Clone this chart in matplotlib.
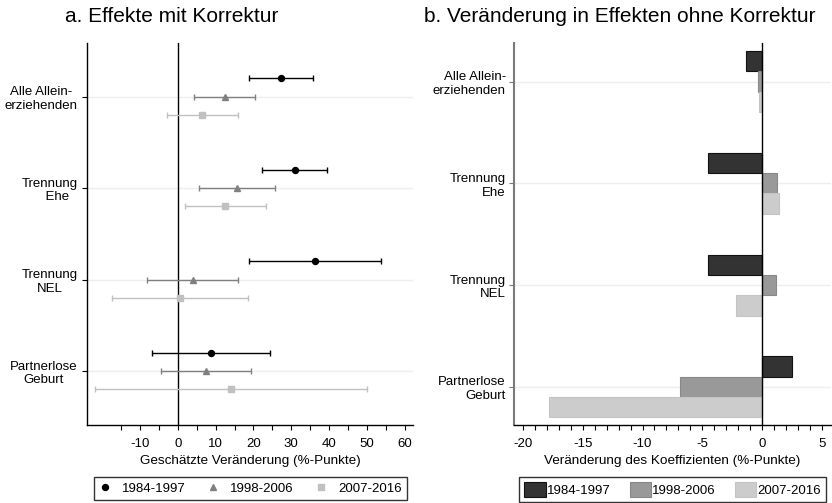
import numpy as np
import matplotlib
matplotlib.use("Agg")
import matplotlib.pyplot as plt
from matplotlib.lines import Line2D
from matplotlib.patches import Patch

plt.rcParams['font.family'] = ['Liberation Sans', 'DejaVu Sans']
plt.rcParams['axes.unicode_minus'] = False

# categories (left panel labels centred, right panel labels right aligned)
cats_left = ['Alle Allein-\nerziehenden', 'Trennung\n    Ehe', 'Trennung\nNEL', 'Partnerlose\nGeburt']
cats_right = ['Alle Allein-\nerziehenden', 'Trennung\nEhe', 'Trennung\nNEL', 'Partnerlose\nGeburt']
periods = ['1984-1997', '1998-2006', '2007-2016']

# panel a: estimates with confidence intervals
coef_8497 = [27.2, 30.9, 36.3, 8.7]
lo_8497 = [18.8, 22.2, 18.9, -6.9]
hi_8497 = [35.7, 39.5, 53.6, 24.4]
coef_9806 = [12.4, 15.6, 4.0, 7.5]
lo_9806 = [4.3, 5.5, -8.1, -4.4]
hi_9806 = [20.4, 25.8, 16.0, 19.4]
coef_0716 = [6.4, 12.5, 0.5, 14.0]
lo_0716 = [-2.8, 1.8, -17.3, -21.8]
hi_0716 = [16.0, 23.4, 18.6, 49.9]

# panel b: change in coefficient
diff_8497 = [-1.3, -4.5, -4.5, 2.5]
diff_9806 = [-0.3, 1.3, 1.2, -6.9]
diff_0716 = [-0.25, 1.4, -2.2, -17.8]

FS = 9.5

fig = plt.figure(figsize=(8.32, 5.03), dpi=100)
axl = fig.add_axes([0.105, 0.155, 0.3915, 0.7595])
axr = fig.add_axes([0.618, 0.155, 0.381, 0.7595])

ypos = np.arange(len(cats_left))

# ---- left panel
series = [
    (coef_8497, lo_8497, hi_8497, 'o', '#000000', -0.2, 4.3),
    (coef_9806, lo_9806, hi_9806, '^', '#808080', 0.0, 4.6),
    (coef_0716, lo_0716, hi_0716, 's', '#c0c0c0', 0.2, 4.0),
]
for y in ypos:
    axl.axhline(y, color='#eeeeee', lw=1, zorder=0)
axl.axvline(0, color='black', lw=1, zorder=1)
for coef, lo, hi, mk, col, off, ms in series:
    c = np.array(coef)
    err = [c - np.array(lo), np.array(hi) - c]
    axl.errorbar(c, ypos + off, xerr=err, fmt=mk, color=col, ms=ms,
                 elinewidth=1, capsize=2.2, capthick=1, zorder=3)

axl.set_ylim(3.59, -0.587)
axl.set_xlim(-23.9, 62.2)
axl.set_yticks(ypos)
axl.set_yticklabels(cats_left, multialignment='center', fontsize=FS)
xt = np.arange(-15, 61, 5)
axl.set_xticks(xt)
axl.set_xticklabels([str(v) if v % 10 == 0 else '' for v in xt], fontsize=FS)
axl.tick_params(length=3.5, width=0.8, color='black')
axl.tick_params(axis='x', pad=5.8)
for s in ['top', 'right']:
    axl.spines[s].set_visible(False)
axl.spines['left'].set_linewidth(1)
axl.spines['bottom'].set_linewidth(1)
axl.set_xlabel('Geschätzte Veränderung (%-Punkte)', fontsize=9.7, labelpad=3.5)

hl = [Line2D([], [], marker=mk, color=col, ls='none', ms=ms)
      for _, _, _, mk, col, _, ms in series]
fig.legend(hl, periods, loc='upper left', ncol=3, mode='expand',
           bbox_to_anchor=(0.113, -0.1, 0.376, 0.1517), fontsize=FS,
           frameon=True, fancybox=False, edgecolor='black', handlelength=0.8,
           handletextpad=0.9, borderaxespad=0.0)

# ---- right panel
bars = [
    (diff_8497, '#333333', '#111111', -0.2),
    (diff_9806, '#999999', '#888888', 0.0),
    (diff_0716, '#cccccc', '#c4c4c4', 0.2),
]
for y in ypos:
    axr.axhline(y, color='#eeeeee', lw=1, zorder=0)
for vals, col, ec, off in bars:
    axr.barh(ypos + off, vals, height=0.2, color=col, edgecolor=ec, lw=0.8, zorder=2)
axr.axvline(0, color='black', lw=1, zorder=3)

axr.set_ylim(3.377, -0.38)
axr.set_xlim(-20.75, 5.8)
axr.set_yticks(ypos)
axr.set_yticklabels(cats_right, multialignment='right', fontsize=FS)
axr.set_xticks(np.arange(-20, 6, 5))
axr.set_xticks(np.arange(-20, 6, 1), minor=True)
axr.tick_params(axis='x', which='both', length=3.5, width=0.8, labelsize=FS, pad=5.8)
axr.tick_params(axis='y', length=3.5, width=0.8, color='#7a7a7a', pad=2.5)
for s in ['top', 'right']:
    axr.spines[s].set_visible(False)
axr.spines['left'].set_color('#7a7a7a')
axr.spines['left'].set_linewidth(1.5)
axr.spines['bottom'].set_linewidth(1)
axr.set_xlabel('Veränderung des Koeffizienten (%-Punkte)', fontsize=9.7, labelpad=3.5)

hb = [Patch(facecolor=col, edgecolor=ec, lw=0.8) for _, col, ec, _ in bars]
fig.legend(hb, periods, loc='upper left', ncol=3, mode='expand',
           bbox_to_anchor=(0.624, -0.1, 0.369, 0.1517), fontsize=FS,
           frameon=True, fancybox=False, edgecolor='black', handlelength=1.6,
           handleheight=1.3, handletextpad=0.1, borderaxespad=0.0)

fig.text(171.7 / 832, 1 - 17 / 503, 'a. Effekte mit Korrektur', ha='center', va='center', fontsize=15)
fig.text(620 / 832, 1 - 17 / 503, 'b. Veränderung in Effekten ohne Korrektur', ha='center', va='center', fontsize=15)

fig.savefig('out.png', dpi=100)
